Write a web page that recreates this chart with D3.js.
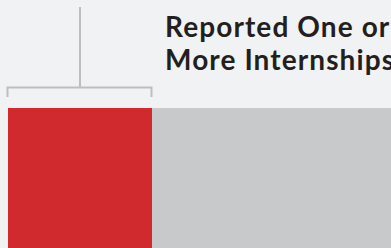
<!DOCTYPE html>
<html><head><meta charset="utf-8">
<script src="https://cdn.jsdelivr.net/npm/d3@7"></script>
<style>html,body{margin:0;padding:0;background:#f1f2f4;overflow:hidden}</style>
</head><body><svg id="c" width="391" height="248"></svg>
<script>
const categories = ["Reported One or More Internships", "No Internships"];
const values = [36, 64];
const colors = ["#d0292e", "#c8c9cb"];
const labelLines = ["Reported One or", "More Internships"];

const svg = d3.select("#c");
svg.append("rect").attr("width",391).attr("height",248).attr("fill","#f1f2f4");

const x = d3.scaleLinear().domain([0, 100]).range([8, 408]);
let acc = 0;
const stacked = values.map((v,i)=>{const d={cat:categories[i],x0:acc,x1:acc+v,color:colors[i]};acc+=v;return d;});

svg.selectAll("rect.bar").data(stacked).enter().append("rect")
  .attr("class","bar")
  .attr("x",d=>x(d.x0)).attr("width",d=>x(d.x1)-x(d.x0))
  .attr("y",108).attr("height",140)
  .attr("fill",d=>d.color);

// bracket over first segment
const b = stacked[0];
const bx0 = x(b.x0) - 0.5, bx1 = x(b.x1) - 0.5, bc = (x(b.x0)+x(b.x1))/2;
const g = svg.append("g").attr("stroke","#bdbec0").attr("stroke-width",2).attr("fill","none");
g.append("path").attr("d",`M${bx0},97V87.5H${bx1}V97`);
g.append("line").attr("x1",bc).attr("x2",bc).attr("y1",7).attr("y2",87.5);

const t = svg.append("text").attr("x",165).attr("fill","#231f20")
  .attr("font-family","Lato, 'Open Sans', sans-serif").attr("font-weight","bold").attr("font-size",28)
  .attr("letter-spacing",1.1);
labelLines.forEach((l,i)=>t.append("tspan").attr("x",165).attr("y",37+i*33).text(l));
</script></body></html>
